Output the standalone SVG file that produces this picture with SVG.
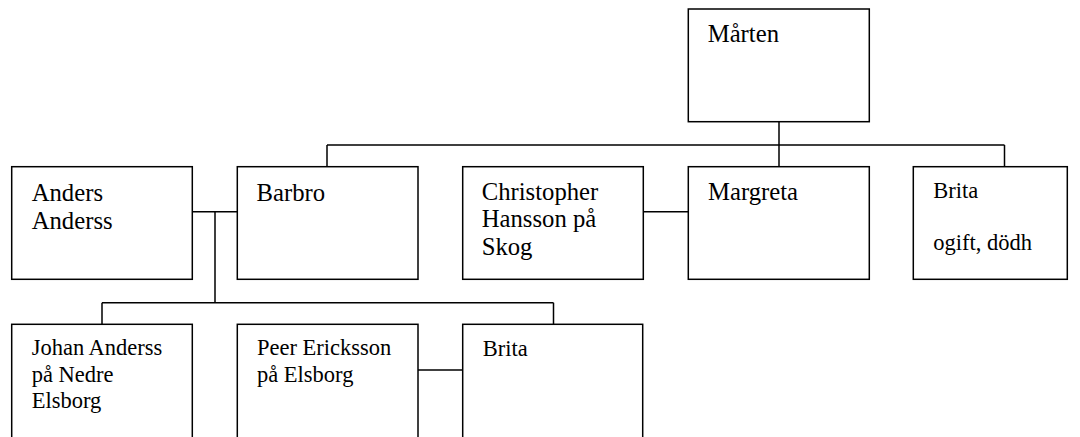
<svg xmlns="http://www.w3.org/2000/svg" width="1080" height="437" viewBox="0 0 1080 437">
<style>
.box{fill:#fff;stroke:#000;stroke-width:1.5}
.ln{fill:none;stroke:#000;stroke-width:1.5}
.a{font-size:24.7px}
.b{font-size:22.5px}
</style>
<rect width="1080" height="437" fill="#fff"/>
<g id="connectors">
<path class="ln" d="M779 122V145M327 145H1004.5M327 145V167M779 145V167M1004.5 145V167"/>
<path class="ln" d="M192 211.7H237M215 211.7V302.7M102 302.7H553.5M102 302.7V324.5M553.5 302.7V324.5"/>
<path class="ln" d="M643.5 211.7H688"/>
<path class="ln" d="M418 370H462.7"/>
</g>
<g font-family="'Liberation Serif', Tinos, 'Times New Roman', Times, serif" fill="#000">
<g id="marten"><rect class="box" x="688.3" y="9" width="181" height="112.7"/><text class="a" x="707.7" y="41.7">Mårten</text></g>
<g id="anders"><rect class="box" x="11.7" y="166.7" width="180.6" height="112.6"/><text class="a" x="31.7" y="200.7">Anders</text><text class="a" x="31.7" y="229">Anderss</text></g>
<g id="barbro"><rect class="box" x="237.3" y="166.7" width="180.7" height="112.6"/><text class="a" x="256.5" y="200.7">Barbro</text></g>
<g id="christopher"><rect class="box" x="462.7" y="166.7" width="180.6" height="112.6"/><text class="a" x="481.7" y="199.5">Christopher</text><text class="a" x="481.7" y="227">Hansson på</text><text class="a" x="481.7" y="254.5">Skog</text></g>
<g id="margreta"><rect class="box" x="688.3" y="166.7" width="181" height="112.6"/><text class="a" x="708" y="199.5">Margreta</text></g>
<g id="brita1"><rect class="box" x="913.3" y="166.7" width="154" height="112.6"/><text class="b" x="933.3" y="197.7">Brita</text><text class="b" x="933.3" y="250">ogift, dödh</text></g>
<g id="johan"><rect class="box" x="11.7" y="324.3" width="180.6" height="130"/><text class="b" x="31.7" y="355">Johan Anderss</text><text class="b" x="31.7" y="381.7">på Nedre</text><text class="b" x="31.7" y="408.3">Elsborg</text></g>
<g id="peer"><rect class="box" x="237.3" y="324.3" width="180.7" height="130"/><text class="b" x="257" y="355">Peer Ericksson</text><text class="b" x="257" y="381.7">på Elsborg</text></g>
<g id="brita2"><rect class="box" x="462.7" y="324.3" width="180" height="130"/><text class="b" x="482.7" y="355.7">Brita</text></g>
</g>
</svg>
